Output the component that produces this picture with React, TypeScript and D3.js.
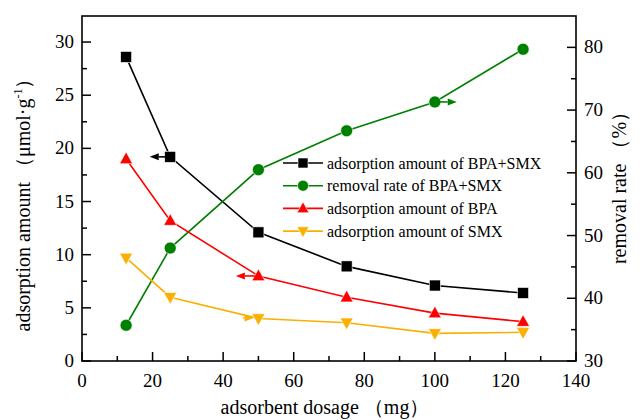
import * as d3 from "d3";

// Chart data
const dosage = [12.5, 25, 50, 75, 100, 125];
const amountTotal = [28.6, 19.2, 12.1, 8.9, 7.1, 6.4];
const removalRate = [35.7, 48.0, 60.5, 66.7, 71.3, 79.7];
const amountBPA = [19.0, 13.2, 8.0, 6.0, 4.5, 3.7];
const amountSMX = [9.7, 6.0, 4.0, 3.6, 2.6, 2.7];

const xTicks = [0, 20, 40, 60, 80, 100, 120, 140];
const yLeftTicks = [0, 5, 10, 15, 20, 25, 30];
const yRightTicks = [30, 40, 50, 60, 70, 80];

const legendLabels = [
  "adsorption amount of BPA+SMX",
  "removal rate of BPA+SMX",
  "adsorption amount of BPA",
  "adsorption amount of SMX",
];

// arrows pointing toward the axis each curve belongs to: [fromX, toX, y, series]
const arrows: [number, number, number, string][] = [
  [24, 19.2, 19.2, "total"],
  [49, 43.6, 8.0, "bpa"],
  [45.6, 48.6, 4.05, "smx"],
  [101, 106.2, 71.3, "rate"],
];

const W = 640;
const H = 420;
const margin = { top: 16, right: 64, bottom: 59, left: 82 };
const FONT = "'Liberation Serif', 'Times New Roman', serif";

const colors: Record<string, string> = {
  total: "#000000",
  rate: "#008000",
  bpa: "#FF0000",
  smx: "#F9B000",
};

type Shape = "square" | "circle" | "up" | "down";

function Marker({ x, y, shape, color, size }: { x: number; y: number; shape: Shape; color: string; size: number }) {
  const s = size / 2;
  if (shape === "square")
    return <rect x={x - s} y={y - s} width={size} height={size} fill={color} stroke="#fff" strokeWidth={0.6} />;
  if (shape === "circle") return <circle cx={x} cy={y} r={s} fill={color} stroke="#fff" strokeWidth={0.6} />;
  const h = size * 0.9;
  const pts =
    shape === "up"
      ? `${x},${y - h * 0.6} ${x - s},${y + h * 0.4} ${x + s},${y + h * 0.4}`
      : `${x},${y + h * 0.6} ${x - s},${y - h * 0.4} ${x + s},${y - h * 0.4}`;
  return <polygon points={pts} fill={color} stroke="#fff" strokeWidth={0.6} />;
}

export default function App() {
  const x = d3.scaleLinear().domain([0, 140]).range([margin.left, W - margin.right]);
  const yL = d3.scaleLinear().domain([0, 32.45]).range([H - margin.bottom, margin.top]);
  const yR = d3.scaleLinear().domain([30, 85]).range([H - margin.bottom, margin.top]);

  const x0 = margin.left;
  const x1 = W - margin.right;
  const y0 = H - margin.bottom;
  const y1 = margin.top;

  const series = [
    { key: "total", values: amountTotal, scale: yL, shape: "square" as Shape, size: 11 },
    { key: "rate", values: removalRate, scale: yR, shape: "circle" as Shape, size: 12 },
    { key: "bpa", values: amountBPA, scale: yL, shape: "up" as Shape, size: 13 },
    { key: "smx", values: amountSMX, scale: yL, shape: "down" as Shape, size: 13 },
  ];

  const xMinor = d3.range(10, 140, 20);
  const yLMinor = d3.range(2.5, 32.5, 5);
  const yRMinor = d3.range(35, 85, 10);

  return (
    <svg
      width={W}
      height={H}
      style={{ position: "absolute", left: 0, top: 0, background: "#fff", fontFamily: FONT }}
      fontFamily={FONT}
    >
      {/* frame */}
      <rect x={x0} y={y1} width={x1 - x0} height={y0 - y1} fill="none" stroke="#000" strokeWidth={1.6} />

      {/* bottom axis ticks */}
      {xTicks.map((t) => (
        <g key={"xt" + t}>
          <line x1={x(t)} x2={x(t)} y1={y0} y2={y0 - 9} stroke="#000" strokeWidth={1.5} />
          <text x={x(t)} y={y0 + 26} fontSize={19} textAnchor="middle">
            {t}
          </text>
        </g>
      ))}
      {xMinor.map((t) => (
        <line key={"xm" + t} x1={x(t)} x2={x(t)} y1={y0} y2={y0 - 5} stroke="#000" strokeWidth={1.5} />
      ))}

      {/* left axis ticks */}
      {yLeftTicks.map((t) => (
        <g key={"yl" + t}>
          <line x1={x0} x2={x0 + 9} y1={yL(t)} y2={yL(t)} stroke="#000" strokeWidth={1.5} />
          <text x={x0 - 8} y={yL(t) + 6} fontSize={19} textAnchor="end">
            {t}
          </text>
        </g>
      ))}
      {yLMinor.map((t) => (
        <line key={"ylm" + t} x1={x0} x2={x0 + 5} y1={yL(t)} y2={yL(t)} stroke="#000" strokeWidth={1.5} />
      ))}

      {/* right axis ticks */}
      {yRightTicks.map((t) => (
        <g key={"yr" + t}>
          <line x1={x1} x2={x1 - 9} y1={yR(t)} y2={yR(t)} stroke="#000" strokeWidth={1.5} />
          <text x={x1 + 8} y={yR(t) + 6} fontSize={19} textAnchor="start">
            {t}
          </text>
        </g>
      ))}
      {yRMinor.map((t) => (
        <line key={"yrm" + t} x1={x1} x2={x1 - 5} y1={yR(t)} y2={yR(t)} stroke="#000" strokeWidth={1.5} />
      ))}

      {/* axis titles */}
      <text x={325} y={414} fontSize={20} textAnchor="middle">
        adsorbent dosage （mg）
      </text>
      <text transform="translate(30,200) rotate(-90)" fontSize={20} textAnchor="middle">
        adsorption amount （μmol·g<tspan dy={-8} fontSize={12}>-1</tspan>
        <tspan dy={8}>）</tspan>
      </text>
      <text transform="translate(626,183) rotate(-90)" fontSize={20} textAnchor="middle">
        removal rate （%）
      </text>

      {/* series lines and markers */}
      {series.map((s) => {
        const line = d3
          .line<number>()
          .x((_, i) => x(dosage[i]))
          .y((v) => s.scale(v));
        return (
          <g key={s.key}>
            <path d={line(s.values) ?? ""} fill="none" stroke={colors[s.key]} strokeWidth={1.6} />
            {s.values.map((v, i) => (
              <Marker key={i} x={x(dosage[i])} y={s.scale(v)} shape={s.shape} color={colors[s.key]} size={s.size} />
            ))}
          </g>
        );
      })}

      {/* axis arrows */}
      {arrows.map(([fx, tx, v, key], i) => {
        const sc = key === "rate" ? yR : yL;
        const ax = x(fx);
        const bx = x(tx);
        const yy = sc(v);
        const dir = bx > ax ? 1 : -1;
        const head = 9;
        return (
          <g key={"ar" + i} fill={colors[key]}>
            <line x1={ax} x2={bx - dir * head} y1={yy} y2={yy} stroke={colors[key]} strokeWidth={1.6} />
            <polygon points={`${bx},${yy} ${bx - dir * head},${yy - 3.5} ${bx - dir * head},${yy + 3.5}`} />
          </g>
        );
      })}

      {/* legend */}
      {series.map((s, i) => {
        const ly = 163 + i * 22.7;
        return (
          <g key={"lg" + s.key}>
            <line x1={283} x2={323} y1={ly} y2={ly} stroke={colors[s.key]} strokeWidth={1.6} />
            <Marker x={303} y={ly} shape={s.shape} color={colors[s.key]} size={s.size - 1} />
            <text x={327} y={ly + 5.5} fontSize={16}>
              {legendLabels[i]}
            </text>
          </g>
        );
      })}
    </svg>
  );
}
